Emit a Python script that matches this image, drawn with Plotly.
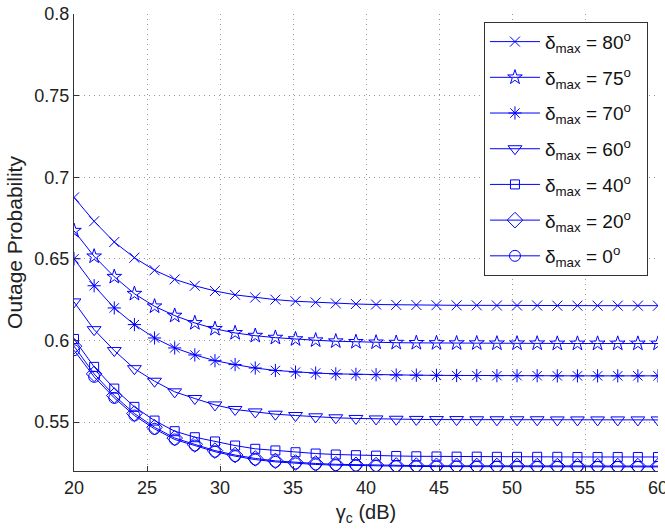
import numpy as np
import plotly.graph_objects as go

# x-axis samples (gamma_c in dB), 30 samples from 20 to 60
gamma_c = np.linspace(20, 60, 30)

p80 = [0.6876, 0.6730, 0.6603, 0.6507, 0.6430, 0.6374, 0.6335, 0.6303, 0.6279, 0.6263,
       0.6250, 0.6240, 0.6233, 0.6227, 0.6223, 0.6220, 0.6218, 0.6217, 0.6216, 0.6215,
       0.6215, 0.6214, 0.6214, 0.6214, 0.6213, 0.6213, 0.6213, 0.6213, 0.6213, 0.6213]
p75 = [0.6672, 0.6515, 0.6390, 0.6286, 0.6209, 0.6152, 0.6107, 0.6071, 0.6046, 0.6029,
       0.6017, 0.6008, 0.6001, 0.5995, 0.5991, 0.5988, 0.5986, 0.5985, 0.5984, 0.5983,
       0.5983, 0.5982, 0.5982, 0.5982, 0.5981, 0.5981, 0.5981, 0.5981, 0.5981, 0.5981]
p70 = [0.6500, 0.6335, 0.6199, 0.6097, 0.6015, 0.5954, 0.5911, 0.5876, 0.5852, 0.5831,
       0.5816, 0.5806, 0.5800, 0.5795, 0.5792, 0.5790, 0.5788, 0.5787, 0.5786, 0.5785,
       0.5785, 0.5784, 0.5784, 0.5784, 0.5783, 0.5783, 0.5783, 0.5783, 0.5783, 0.5783]
p60 = [0.6236, 0.6066, 0.5938, 0.5827, 0.5750, 0.5685, 0.5644, 0.5605, 0.5577, 0.5562,
       0.5548, 0.5540, 0.5532, 0.5526, 0.5522, 0.5519, 0.5517, 0.5516, 0.5515, 0.5515,
       0.5514, 0.5514, 0.5514, 0.5514, 0.5513, 0.5513, 0.5513, 0.5513, 0.5513, 0.5513]
p40 = [0.6009, 0.5838, 0.5705, 0.5593, 0.5509, 0.5444, 0.5407, 0.5381, 0.5356, 0.5336,
       0.5326, 0.5315, 0.5307, 0.5301, 0.5297, 0.5294, 0.5292, 0.5290, 0.5289, 0.5288,
       0.5288, 0.5287, 0.5287, 0.5287, 0.5287, 0.5286, 0.5286, 0.5286, 0.5286, 0.5286]
p20 = [0.5965, 0.5795, 0.5662, 0.5552, 0.5468, 0.5402, 0.5363, 0.5325, 0.5298, 0.5277,
       0.5262, 0.5252, 0.5246, 0.5241, 0.5238, 0.5236, 0.5234, 0.5233, 0.5232, 0.5232,
       0.5231, 0.5231, 0.5231, 0.5230, 0.5230, 0.5230, 0.5230, 0.5230, 0.5230, 0.5230]
p0 = [0.5940, 0.5777, 0.5648, 0.5540, 0.5458, 0.5393, 0.5356, 0.5318, 0.5291, 0.5270,
      0.5256, 0.5246, 0.5240, 0.5236, 0.5233, 0.5231, 0.5229, 0.5228, 0.5227, 0.5227,
      0.5226, 0.5226, 0.5226, 0.5225, 0.5225, 0.5225, 0.5225, 0.5225, 0.5225, 0.5225]

series = [p80, p75, p70, p60, p40, p20, p0]
angles = ["80", "75", "70", "60", "40", "20", "0"]
symbols = ["x-thin-open", "star-open", "asterisk-open", "triangle-down-open",
           "square-open", "diamond-open", "circle-open"]
sizes = [10, 11, 11, 12, 9, 12, 11]

x_ticks = [20, 25, 30, 35, 40, 45, 50, 55, 60]
y_ticks = [0.55, 0.6, 0.65, 0.7, 0.75, 0.8]

BLUE = "#0000ff"
FONT = "Liberation Sans, Arial, sans-serif"

fig = go.Figure()
for i, (vals, ang, sym, sz) in enumerate(zip(series, angles, symbols, sizes)):
    fig.add_trace(go.Scatter(
        x=gamma_c, y=vals, mode="lines+markers",
        name="δ<sub>max</sub> = " + ang + "<sup>o</sup>  ",
        legendgroup="g%d" % i,
        line=dict(color=BLUE, width=1),
        marker=dict(symbol=sym, size=sz, color=BLUE,
                    line=dict(color=BLUE, width=1)),
    ))

fig.update_layout(
    width=665, height=529,
    margin=dict(l=74, r=7, t=14, b=58),
    paper_bgcolor="white", plot_bgcolor="white",
    font=dict(family=FONT, size=18, color="#222"),
    showlegend=True,
    legend=dict(
        x=0.702, y=0.983, xanchor="left", yanchor="top",
        bgcolor="white", bordercolor="#333", borderwidth=1,
        font=dict(family=FONT, size=19, color="#111"),
        tracegroupgap=8, itemwidth=50,
    ),
)
fig.update_xaxes(
    range=[20, 60], tickvals=x_ticks, ticktext=[str(v) for v in x_ticks],
    showline=True, linecolor="#333", linewidth=1, mirror=False,
    ticks="inside", ticklen=5, tickcolor="#333",
    showgrid=True, gridcolor="#999999", griddash="1px,4px", gridwidth=1,
    zeroline=False, automargin=False, ticklabeloverflow="allow",
    tickfont=dict(size=18),
    title=dict(text="γ<sub>c</sub> (dB)", font=dict(size=20), standoff=8),
)
fig.update_yaxes(
    range=[0.52, 0.8], tickvals=y_ticks, ticktext=["0.55", "0.6", "0.65", "0.7", "0.75", "0.8"],
    showline=True, linecolor="#333", linewidth=1, mirror=False,
    ticks="inside", ticklen=5, tickcolor="#333",
    showgrid=True, gridcolor="#999999", griddash="1px,4px", gridwidth=1,
    zeroline=False, automargin=False, ticklabeloverflow="allow",
    tickfont=dict(size=18),
    title=dict(text="Outage Probability", font=dict(size=21), standoff=6),
)

fig.write_html("out.html")
